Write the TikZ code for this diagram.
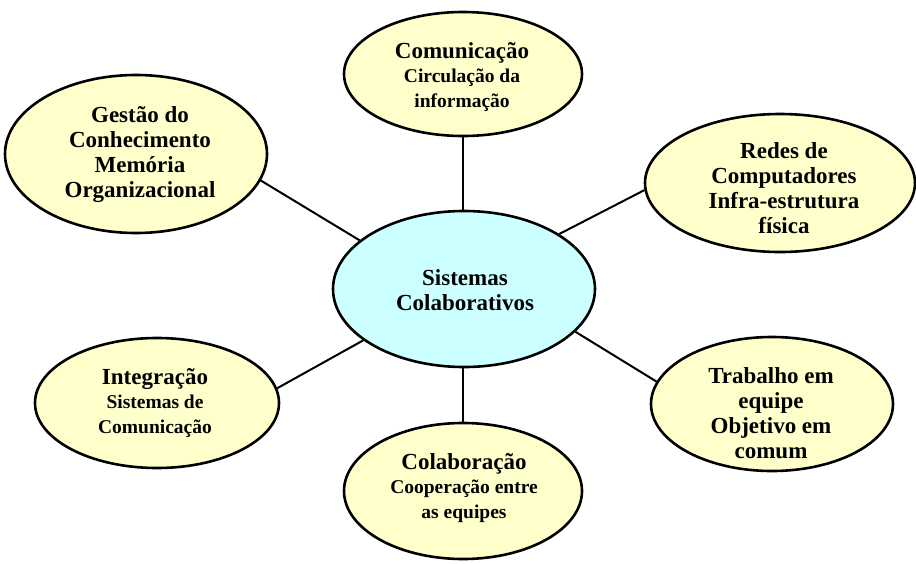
\documentclass[tikz,border=0pt]{standalone}
\usepackage{fontspec}
\setmainfont{Liberation Serif}
\usetikzlibrary{shapes.geometric}
\definecolor{cream}{HTML}{FFFFCC}
\definecolor{paleblue}{HTML}{CCFFFF}
\newcommand{\subline}[1]{{\fontsize{19.5}{24}\selectfont #1}}
\tikzset{
  topic/.style={ellipse, draw=black, line width=2.6pt, fill=cream, inner sep=0pt},
  hub/.style={topic, fill=paleblue},
  caption/.style={align=center, inner sep=0pt, font=\bfseries\fontsize{23}{25}\selectfont},
  link/.style={draw=black, line width=2pt}
}
\begin{document}
\begin{tikzpicture}[x=1pt,y=-1pt]
  \useasboundingbox (0,0) rectangle (916,563);
  % central hub
  \node[hub, minimum width=262, minimum height=156] (hub) at (464,289) {};
  % surrounding topics
  \node[topic, minimum width=238, minimum height=124] (com) at (463,74) {};
  \node[topic, minimum width=262, minimum height=158] (ges) at (136,154) {};
  \node[topic, minimum width=270, minimum height=138] (red) at (780,183) {};
  \node[topic, minimum width=244, minimum height=130] (int) at (157,403) {};
  \node[topic, minimum width=242, minimum height=134] (tra) at (772,404) {};
  \node[topic, minimum width=238, minimum height=136] (col) at (463,491) {};
  % captions
  \node[caption] (hubtxt) at (465,290) {Sistemas\\Colaborativos};
  \node[caption] (comtxt) at (462,77) {Comunicação\\[-1pt]\subline{Circulação da}\\\subline{informação}};
  \node[caption] (gestxt) at (140,155) {Gestão do\\Conhecimento\\Memória\\Organizacional};
  \node[caption] (redtxt) at (784,188) {Redes de\\Computadores\\Infra-estrutura\\física};
  \node[caption] (inttxt) at (155,403) {Integração\\[-1pt]\subline{Sistemas de}\\\subline{Comunicação}};
  \node[caption] (tratxt) at (771,413) {Trabalho em\\equipe\\Objetivo em\\comum};
  \node[caption] (coltxt) at (464,488) {Colaboração\\[-1pt]\subline{Cooperação entre}\\\subline{as equipes}};
  % spokes
  \draw[link] (hub.north -| com.south) -- (com.south);
  \draw[link] (hub.south -| col.north) -- (col.north);
  \draw[link] (hub.155.7) -- (ges.-12.2);
  \draw[link] (hub.30.8) -- (red.-177);
  \draw[link] (hub.-153) -- (int.7.2);
  \draw[link] (hub.-21.1) -- (tra.169);
\end{tikzpicture}
\end{document}
